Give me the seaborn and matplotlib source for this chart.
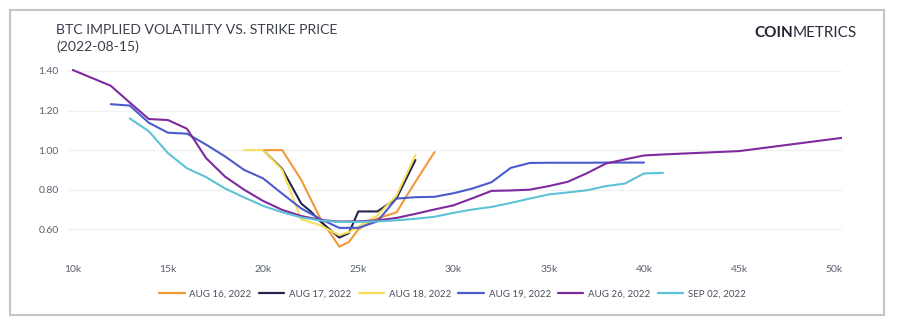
import numpy as np
import pandas as pd
import matplotlib
matplotlib.use("Agg")
import matplotlib.pyplot as plt
from matplotlib.patches import Rectangle
import seaborn as sns

# ---------------- data (strike in $k, implied vol) ----------------
expiries = ["AUG 16, 2022", "AUG 17, 2022", "AUG 18, 2022", "AUG 19, 2022", "AUG 26, 2022", "SEP 02, 2022"]

aug16_strike = [20, 21, 22, 23, 24, 24.5, 25, 26, 27, 28, 29]
aug16_iv = [1.0, 1.0, 0.85, 0.655, 0.512, 0.535, 0.60, 0.655, 0.685, 0.84, 0.99]

aug17_strike = [20, 21, 22, 22.5, 23, 24, 24.5, 25, 26, 27, 28]
aug17_iv = [1.0, 0.905, 0.73, 0.69, 0.64, 0.558, 0.58, 0.69, 0.69, 0.755, 0.95]

aug18_strike = [19, 20, 21, 22, 23, 24, 24.5, 25, 26, 27, 28]
aug18_iv = [1.0, 1.0, 0.90, 0.65, 0.62, 0.57, 0.585, 0.612, 0.67, 0.77, 0.975]

aug19_strike = [12, 13, 14, 15, 16, 17, 18, 19, 20, 21, 22, 23, 24, 25, 26, 27, 28, 29, 30,
                31, 32, 33, 34, 35, 36, 37, 38, 39, 40]
aug19_iv = [1.232, 1.225, 1.138, 1.088, 1.083, 1.028, 0.968, 0.90, 0.857, 0.78, 0.705, 0.652,
            0.607, 0.607, 0.64, 0.755, 0.762, 0.764, 0.782, 0.806, 0.838, 0.91, 0.935, 0.936,
            0.936, 0.936, 0.937, 0.937, 0.937]

aug26_strike = [10, 12, 13, 14, 15, 16, 17, 18, 19, 20, 21, 22, 23, 24, 25, 26, 27, 28, 29, 30,
                31, 32, 33, 34, 35, 36, 37, 38, 39, 40, 41, 45, 50.4]
aug26_iv = [1.405, 1.325, 1.24, 1.157, 1.152, 1.108, 0.96, 0.866, 0.8, 0.743, 0.698, 0.667,
            0.647, 0.639, 0.64, 0.645, 0.657, 0.678, 0.70, 0.721, 0.757, 0.794, 0.796, 0.80,
            0.818, 0.84, 0.883, 0.932, 0.953, 0.973, 0.978, 0.995, 1.062]

sep02_strike = [13, 14, 15, 16, 17, 18, 19, 20, 21, 22, 23, 24, 25, 26, 27, 28, 29, 30, 31, 32,
                33, 34, 35, 36, 37, 38, 39, 40, 41]
sep02_iv = [1.16, 1.095, 0.985, 0.908, 0.864, 0.806, 0.761, 0.718, 0.686, 0.66, 0.644, 0.637,
            0.637, 0.64, 0.645, 0.653, 0.663, 0.683, 0.70, 0.713, 0.733, 0.755, 0.776, 0.786,
            0.797, 0.818, 0.831, 0.882, 0.885]

colors = ["#f29a3a", "#23254f", "#f7df5c", "#4a5ccd", "#7e2a9f", "#5cc3d7"]

x_ticks = [10, 15, 20, 25, 30, 35, 40, 45, 50]
x_tick_labels = ["10k", "15k", "20k", "25k", "30k", "35k", "40k", "45k", "50k"]
y_ticks = [0.60, 0.80, 1.00, 1.20, 1.40]
y_tick_labels = ["0.60", "0.80", "1.00", "1.20", "1.40"]

title = "BTC IMPLIED VOLATILITY VS. STRIKE PRICE\n(2022-08-15)"

# ---------------- build table ----------------
series = [(aug16_strike, aug16_iv), (aug17_strike, aug17_iv), (aug18_strike, aug18_iv),
          (aug19_strike, aug19_iv), (aug26_strike, aug26_iv), (sep02_strike, sep02_iv)]
frames = []
for name, (s, v) in zip(expiries, series):
    frames.append(pd.DataFrame({"strike": s, "iv": v, "expiry": name}))
df = pd.concat(frames, ignore_index=True)

# ---------------- plot ----------------
sns.set_theme(style="white")
plt.rcParams["font.family"] = ["Lato", "DejaVu Sans"]

W, H = 900, 329
fig = plt.figure(figsize=(W / 100, H / 100), dpi=100)
fig.patch.set_facecolor("white")

ax_l, ax_r, ax_t, ax_b = 67, 842, 67, 253
ax = fig.add_axes([ax_l / W, 1 - ax_b / H, (ax_r - ax_l) / W, (ax_b - ax_t) / H])

sns.lineplot(data=df, x="strike", y="iv", hue="expiry", hue_order=expiries,
             palette=colors, linewidth=1.5, ax=ax, sort=False, estimator=None,
             legend=True)

ax.set_xlim(9.7, 50.4)
ax.set_ylim(0.48, 1.42)
ax.set_xticks(x_ticks)
ax.set_xticklabels(x_tick_labels)
ax.set_yticks(y_ticks)
ax.set_yticklabels(y_tick_labels)
ax.set_xlabel("")
ax.set_ylabel("")
ax.tick_params(axis="both", length=0, labelsize=7.5, labelcolor="#5b6070")
ax.tick_params(axis="x", pad=9)
ax.tick_params(axis="y", pad=6)
ax.grid(axis="y", color="#f1f1f3", linewidth=1)
ax.set_axisbelow(True)
for sp in ax.spines.values():
    sp.set_visible(False)

# legend
handles, labels = ax.get_legend_handles_labels()
ax.get_legend().remove()
leg = fig.legend(handles, labels, loc="center", ncol=6,
                 bbox_to_anchor=((162 + 743) / 2 / W, 1 - 294 / H),
                 frameon=False, fontsize=7, handlelength=2.6, handletextpad=0.5,
                 columnspacing=0.75, borderaxespad=0)
for t in leg.get_texts():
    t.set_color("#4a4f5e")
for lh in leg.get_lines():
    lh.set_linewidth(1.6)

# title
fig.text(56 / W, 1 - 24 / H, title, ha="left", va="top", fontsize=10.1,
         color="#3b3f4c", linespacing=1.45)

# logo
t1 = fig.text(754 / W, 1 - 37 / H, "COIN", ha="left", va="baseline",
              fontsize=11, fontweight="bold", color="#1f2330")
fig.canvas.draw()
bb = t1.get_window_extent(renderer=fig.canvas.get_renderer())
fig.text(bb.x1 / W, 1 - 37 / H, "METRICS", ha="left", va="baseline",
         fontsize=11, fontweight="normal", color="#2a2e3a")

# outer frame
fig.patches.append(Rectangle((10 / W, 1 - 315 / H), (884 - 10) / W, (315 - 10) / H,
                             transform=fig.transFigure, fill=False,
                             edgecolor="#c4c4c4", linewidth=1.5))

fig.savefig("out.png", dpi=100, facecolor="white")
